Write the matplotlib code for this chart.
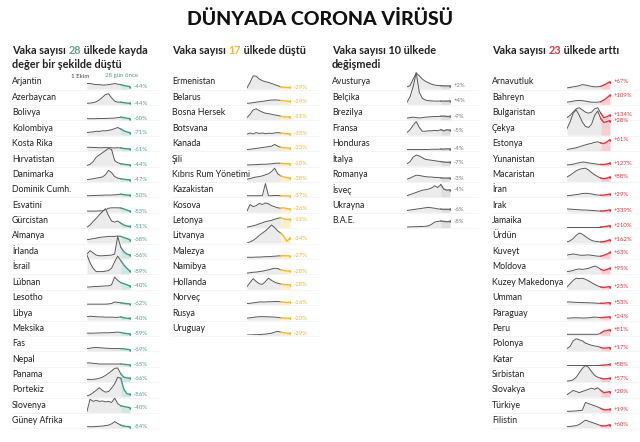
import matplotlib
matplotlib.use("Agg")
import matplotlib.pyplot as plt
from matplotlib.lines import Line2D

W, H = 640, 442

title = "DÜNYADA CORONA VİRÜSÜ"

# ---------------- Column 1: strongly decreased ----------------
col1_header = [[("Vaka sayısı ", "#222222"), ("28", "#5ea58f"), (" ülkede kayda", "#222222")],
               [("değer bir şekilde düştü", "#222222")]]
col1_names = ["Arjantin", "Azerbaycan", "Bolivya", "Kolombiya", "Kosta Rika", "Hırvatistan",
              "Danimarka", "Dominik Cumh.", "Esvatini", "Gürcistan", "Almanya", "İrlanda",
              "İsrail", "Lübnan", "Lesotho", "Libya", "Meksika", "Fas", "Nepal", "Panama",
              "Portekiz", "Slovenya", "Güney Afrika"]
col1_changes = [-44, -44, -60, -71, -61, -44, -47, -50, -83, -51, -68, -66, -89, -40, -62,
                -40, -59, -69, -65, -66, -86, -40, -84]
col1_series = [
    [0.25, 0.25, 0.22, 0.20, 0.20, 0.18, 0.18, 0.20, 0.22, 0.25, 0.22, 0.20, 0.16, 0.13, 0.11],
    [0.05, 0.06, 0.08, 0.12, 0.20, 0.32, 0.45, 0.48, 0.30, 0.15, 0.10, 0.10, 0.08, 0.06, 0.05],
    [0.05, 0.05, 0.05, 0.05, 0.06, 0.06, 0.06, 0.07, 0.07, 0.08, 0.10, 0.12, 0.10, 0.07, 0.05],
    [0.12, 0.14, 0.15, 0.18, 0.17, 0.20, 0.20, 0.22, 0.25, 0.30, 0.35, 0.28, 0.20, 0.15, 0.12],
    [0.15, 0.15, 0.14, 0.14, 0.13, 0.13, 0.14, 0.13, 0.13, 0.12, 0.13, 0.12, 0.10, 0.08, 0.07],
    [0.02, 0.08, 0.20, 0.40, 0.50, 0.60, 0.70, 0.80, 0.75, 0.25, 0.15, 0.10, 0.08, 0.06, 0.05],
    [0.08, 0.10, 0.12, 0.15, 0.17, 0.20, 0.30, 0.50, 0.40, 0.22, 0.15, 0.12, 0.10, 0.08, 0.07],
    [0.05, 0.05, 0.06, 0.06, 0.07, 0.07, 0.08, 0.08, 0.08, 0.09, 0.10, 0.12, 0.10, 0.08, 0.07],
    [0.05, 0.05, 0.05, 0.05, 0.06, 0.06, 0.10, 0.18, 0.20, 0.20, 0.20, 0.19, 0.15, 0.10, 0.05],
    [0.02, 0.12, 0.28, 0.42, 0.58, 0.72, 0.86, 0.55, 0.30, 0.25, 0.30, 0.20, 0.12, 0.07, 0.05],
    [0.15, 0.17, 0.20, 0.22, 0.25, 0.27, 0.28, 0.30, 0.30, 0.30, 0.32, 0.30, 0.25, 0.20, 0.15],
    [0.20, 0.35, 0.25, 0.15, 0.12, 0.12, 0.13, 0.14, 0.15, 0.20, 1.00, 0.50, 0.30, 0.20, 0.15],
    [0.85, 0.50, 0.25, 0.10, 0.10, 0.10, 0.12, 0.15, 0.25, 0.55, 0.80, 0.60, 0.40, 0.25, 0.12],
    [0.10, 0.10, 0.12, 0.12, 0.13, 0.14, 0.15, 0.15, 0.20, 0.55, 0.40, 0.30, 0.25, 0.20, 0.15],
    [0.02, 0.02, 0.02, 0.02, 0.02, 0.02, 0.02, 0.03, 0.05, 0.12, 0.10, 0.08, 0.06, 0.04, 0.03],
    [0.15, 0.17, 0.16, 0.15, 0.14, 0.14, 0.13, 0.13, 0.13, 0.12, 0.12, 0.14, 0.10, 0.08, 0.07],
    [0.10, 0.10, 0.10, 0.11, 0.11, 0.12, 0.12, 0.12, 0.13, 0.14, 0.15, 0.13, 0.10, 0.08, 0.07],
    [0.10, 0.12, 0.14, 0.15, 0.14, 0.13, 0.12, 0.11, 0.10, 0.10, 0.10, 0.10, 0.09, 0.07, 0.05],
    [0.15, 0.15, 0.13, 0.12, 0.10, 0.10, 0.10, 0.10, 0.10, 0.10, 0.10, 0.10, 0.09, 0.07, 0.06],
    [0.10, 0.10, 0.10, 0.12, 0.15, 0.20, 0.28, 0.38, 0.48, 0.60, 0.62, 0.35, 0.20, 0.17, 0.15],
    [0.05, 0.10, 0.20, 0.30, 0.42, 0.30, 0.22, 0.25, 0.40, 0.60, 0.90, 0.85, 0.35, 0.15, 0.12],
    [0.05, 0.60, 0.50, 0.55, 0.50, 0.52, 0.48, 0.50, 0.45, 0.65, 0.40, 0.30, 0.27, 0.24, 0.22],
    [0.05, 0.05, 0.05, 0.06, 0.07, 0.08, 0.10, 0.12, 0.18, 0.28, 0.20, 0.12, 0.08, 0.06, 0.05],
]

# ---------------- Column 2: decreased ----------------
col2_header = [[("Vaka sayısı ", "#222222"), ("17", "#f2b632"), (" ülkede düştü", "#222222")]]
col2_names = ["Ermenistan", "Belarus", "Bosna Hersek", "Botsvana", "Kanada", "Şili",
              "Kıbrıs Rum Yönetimi", "Kazakistan", "Kosova", "Letonya", "Litvanya", "Malezya",
              "Namibya", "Hollanda", "Norveç", "Rusya", "Uruguay"]
col2_changes = [-29, -19, -11, -35, -33, -10, -38, -37, -26, -11, -34, -27, -28, -28, -16, -20, -29]
col2_series = [
    [0.05, 0.30, 0.60, 0.58, 0.45, 0.38, 0.33, 0.30, 0.25, 0.20, 0.15, 0.10, 0.08, 0.07, 0.07],
    [0.05, 0.06, 0.08, 0.10, 0.12, 0.14, 0.16, 0.18, 0.20, 0.20, 0.20, 0.18, 0.16, 0.15, 0.14],
    [0.10, 0.25, 0.45, 0.50, 0.42, 0.35, 0.30, 0.28, 0.25, 0.22, 0.20, 0.16, 0.14, 0.13, 0.13],
    [0.05, 0.10, 0.06, 0.12, 0.08, 0.10, 0.07, 0.09, 0.08, 0.10, 0.12, 0.10, 0.08, 0.07, 0.07],
    [0.05, 0.06, 0.08, 0.10, 0.12, 0.14, 0.16, 0.18, 0.20, 0.28, 0.20, 0.15, 0.13, 0.12, 0.12],
    [0.05, 0.05, 0.06, 0.06, 0.07, 0.08, 0.08, 0.09, 0.10, 0.12, 0.13, 0.12, 0.11, 0.10, 0.10],
    [0.10, 0.13, 0.17, 0.20, 0.22, 0.25, 0.30, 0.35, 0.45, 0.60, 0.35, 0.25, 0.20, 0.17, 0.15],
    [0.05, 0.05, 0.05, 0.05, 0.05, 0.05, 0.60, 0.05, 0.05, 0.06, 0.06, 0.05, 0.05, 0.04, 0.04],
    [0.05, 0.35, 0.25, 0.30, 0.40, 0.35, 0.42, 0.38, 0.30, 0.25, 0.20, 0.18, 0.20, 0.16, 0.15],
    [0.02, 0.05, 0.08, 0.12, 0.17, 0.22, 0.27, 0.30, 0.33, 0.38, 0.42, 0.45, 0.40, 0.37, 0.37],
    [0.00, 0.05, 0.12, 0.22, 0.35, 0.45, 0.55, 0.68, 0.82, 0.70, 0.55, 0.45, 0.30, 0.08, 0.22],
    [0.05, 0.05, 0.05, 0.06, 0.06, 0.07, 0.08, 0.08, 0.09, 0.10, 0.11, 0.12, 0.12, 0.12, 0.11],
    [0.03, 0.05, 0.07, 0.08, 0.10, 0.12, 0.15, 0.18, 0.22, 0.25, 0.24, 0.18, 0.15, 0.13, 0.12],
    [0.12, 0.30, 0.48, 0.35, 0.25, 0.22, 0.35, 0.50, 0.40, 0.32, 0.27, 0.24, 0.22, 0.20, 0.20],
    [0.05, 0.06, 0.08, 0.10, 0.12, 0.12, 0.12, 0.13, 0.13, 0.14, 0.14, 0.13, 0.11, 0.10, 0.10],
    [0.08, 0.10, 0.12, 0.14, 0.15, 0.15, 0.15, 0.14, 0.14, 0.13, 0.12, 0.10, 0.09, 0.08, 0.08],
    [0.02, 0.02, 0.03, 0.03, 0.04, 0.05, 0.06, 0.08, 0.10, 0.15, 0.18, 0.15, 0.12, 0.10, 0.10],
]

# ---------------- Column 3: unchanged ----------------
col3_header = [[("Vaka sayısı 10 ülkede", "#222222")], [("değişmedi", "#222222")]]
col3_names = ["Avusturya", "Belçika", "Brezilya", "Fransa", "Honduras", "İtalya", "Romanya",
              "İsveç", "Ukrayna", "B.A.E."]
col3_changes = [2, 4, -9, -5, -4, -7, -3, -4, -6, -8]
col3_series = [
    [0.10, 0.15, 0.45, 0.72, 0.60, 0.45, 0.35, 0.28, 0.22, 0.18, 0.16, 0.15, 0.14, 0.14, 0.14],
    [0.10, 0.35, 0.80, 1.45, 0.55, 0.28, 0.20, 0.17, 0.16, 0.15, 0.15, 0.15, 0.15, 0.15, 0.16],
    [0.08, 0.10, 0.12, 0.10, 0.08, 0.10, 0.12, 0.13, 0.14, 0.15, 0.15, 0.16, 0.17, 0.15, 0.15],
    [0.12, 0.25, 0.45, 0.62, 0.35, 0.18, 0.18, 0.20, 0.20, 0.22, 0.20, 0.25, 0.20, 0.25, 0.22],
    [0.05, 0.05, 0.05, 0.05, 0.05, 0.05, 0.05, 0.05, 0.06, 0.06, 0.06, 0.07, 0.07, 0.08, 0.08],
    [0.10, 0.20, 0.40, 0.50, 0.45, 0.38, 0.30, 0.28, 0.26, 0.24, 0.22, 0.20, 0.18, 0.17, 0.17],
    [0.10, 0.15, 0.22, 0.28, 0.27, 0.24, 0.22, 0.20, 0.20, 0.18, 0.18, 0.16, 0.15, 0.15, 0.15],
    [0.05, 0.10, 0.15, 0.20, 0.25, 0.30, 0.32, 0.35, 0.40, 0.50, 0.42, 0.55, 0.35, 0.30, 0.32],
    [0.08, 0.10, 0.12, 0.14, 0.16, 0.18, 0.20, 0.22, 0.20, 0.18, 0.15, 0.14, 0.13, 0.13, 0.13],
    [0.03, 0.03, 0.04, 0.04, 0.05, 0.05, 0.06, 0.08, 0.15, 0.25, 0.28, 0.30, 0.28, 0.27, 0.28],
]

# ---------------- Column 4: increased ----------------
col4_header = [[("Vaka sayısı ", "#222222"), ("23", "#d9363e"), (" ülkede arttı", "#222222")]]
col4_names = ["Arnavutluk", "Bahreyn", "Bulgaristan", "Çekya", "Estonya", "Yunanistan",
              "Macaristan", "İran", "Irak", "Jamaika", "Ürdün", "Kuveyt", "Moldova",
              "Kuzey Makedonya", "Umman", "Paraguay", "Peru", "Polonya", "Katar", "Sırbistan",
              "Slovakya", "Türkiye", "Filistin"]
col4_changes = [67, 109, 134, 28, 61, 127, 88, 29, 339, 210, 162, 63, 95, 25, 53, 24, 81, 17,
                88, 57, 20, 19, 60]
col4_series = [
    [0.05, 0.07, 0.10, 0.12, 0.15, 0.20, 0.18, 0.15, 0.12, 0.10, 0.10, 0.12, 0.18, 0.25, 0.33],
    [0.10, 0.12, 0.15, 0.17, 0.18, 0.17, 0.15, 0.12, 0.10, 0.10, 0.10, 0.12, 0.20, 0.30, 0.42],
    [0.10, 0.20, 0.35, 0.50, 0.55, 0.45, 0.35, 0.30, 0.35, 0.50, 0.55, 0.30, 0.10, 0.14, 0.22],
    [0.30, 0.60, 1.00, 1.15, 0.90, 0.60, 0.40, 0.35, 0.50, 0.90, 1.10, 0.75, 0.58, 0.62, 0.66],
    [0.05, 0.08, 0.10, 0.13, 0.17, 0.22, 0.26, 0.30, 0.33, 0.38, 0.40, 0.35, 0.32, 0.40, 0.50],
    [0.05, 0.06, 0.08, 0.12, 0.15, 0.18, 0.17, 0.14, 0.12, 0.10, 0.08, 0.07, 0.07, 0.09, 0.13],
    [0.20, 0.28, 0.38, 0.48, 0.55, 0.58, 0.60, 0.52, 0.40, 0.30, 0.22, 0.15, 0.12, 0.15, 0.20],
    [0.05, 0.06, 0.08, 0.10, 0.12, 0.15, 0.16, 0.15, 0.13, 0.10, 0.08, 0.07, 0.08, 0.10, 0.12],
    [0.15, 0.14, 0.13, 0.12, 0.11, 0.10, 0.10, 0.09, 0.08, 0.07, 0.06, 0.05, 0.06, 0.08, 0.10],
    [0.03, 0.03, 0.03, 0.03, 0.03, 0.03, 0.03, 0.03, 0.03, 0.03, 0.03, 0.03, 0.04, 0.06, 0.09],
    [0.05, 0.10, 0.20, 0.35, 0.45, 0.40, 0.30, 0.20, 0.12, 0.08, 0.06, 0.05, 0.06, 0.10, 0.15],
    [0.15, 0.18, 0.20, 0.18, 0.15, 0.14, 0.15, 0.16, 0.14, 0.12, 0.10, 0.10, 0.14, 0.20, 0.27],
    [0.10, 0.12, 0.15, 0.20, 0.22, 0.20, 0.22, 0.25, 0.30, 0.35, 0.30, 0.20, 0.15, 0.20, 0.25],
    [0.10, 0.25, 0.40, 0.50, 0.48, 0.50, 0.45, 0.38, 0.30, 0.22, 0.15, 0.10, 0.08, 0.10, 0.12],
    [0.12, 0.12, 0.11, 0.10, 0.10, 0.09, 0.09, 0.08, 0.08, 0.07, 0.06, 0.06, 0.06, 0.08, 0.09],
    [0.08, 0.09, 0.10, 0.10, 0.10, 0.09, 0.09, 0.10, 0.12, 0.13, 0.12, 0.11, 0.12, 0.13, 0.14],
    [0.05, 0.05, 0.05, 0.05, 0.05, 0.05, 0.05, 0.05, 0.05, 0.05, 0.05, 0.10, 0.20, 0.22, 0.25],
    [0.10, 0.20, 0.45, 0.55, 0.50, 0.45, 0.35, 0.30, 0.25, 0.22, 0.20, 0.15, 0.12, 0.13, 0.15],
    [0.04, 0.04, 0.04, 0.04, 0.04, 0.04, 0.04, 0.04, 0.04, 0.04, 0.04, 0.04, 0.05, 0.06, 0.08],
    [0.02, 0.04, 0.08, 0.20, 0.40, 0.60, 0.73, 0.65, 0.45, 0.28, 0.20, 0.15, 0.12, 0.13, 0.15],
    [0.10, 0.20, 0.30, 0.25, 0.20, 0.25, 0.30, 0.35, 0.40, 0.35, 0.42, 0.30, 0.20, 0.22, 0.25],
    [0.05, 0.05, 0.06, 0.07, 0.08, 0.10, 0.45, 0.40, 0.35, 0.30, 0.25, 0.18, 0.12, 0.12, 0.14],
    [0.05, 0.06, 0.08, 0.10, 0.15, 0.25, 0.35, 0.30, 0.25, 0.20, 0.15, 0.10, 0.08, 0.10, 0.14],
]

axis_start_label = "1 Ekim"
axis_window_label = "28 gün önce"

# ---------------- layout / style ----------------
FONT = ["Lato", "DejaVu Sans"]
plt.rcParams["font.family"] = FONT

COL_X = [12, 172, 332, 492]
ROW0, ROW_H = 82.0, 15.4
SPARK_DX, SPARK_W, SPARK_H = 75, 43, 33
YMAX = 1.5
LINE_GRAY = "#5a5a5a"
FILL_GRAY = "#ebebeb"

columns = [
    (col1_header, col1_names, col1_series, col1_changes, "#3f9a83", "#cfe9e2", "#4f9f8a"),
    (col2_header, col2_names, col2_series, col2_changes, "#f3b82e", "#fcefc8", "#f0b52c"),
    (col3_header, col3_names, col3_series, col3_changes, "#6d6d6d", "#dedede", "#777777"),
    (col4_header, col4_names, col4_series, col4_changes, "#e3323c", "#fbcdd0", "#e3323c"),
]

fig = plt.figure(figsize=(W / 100, H / 100), dpi=100)
fig.patch.set_facecolor("white")
renderer = fig.canvas.get_renderer()


def fx(x):
    return x / W


def fy(y):
    return 1 - y / H


def text_width(s, **kw):
    t = fig.text(0, 0, s + "|", **kw)
    w1 = t.get_window_extent(renderer).width
    t.remove()
    t = fig.text(0, 0, "|", **kw)
    w2 = t.get_window_extent(renderer).width
    t.remove()
    return w1 - w2


def colored_line(x, y, parts, **kw):
    cur = x
    for s, c in parts:
        fig.text(fx(cur), fy(y), s, color=c, va="center", ha="left", **kw)
        cur += text_width(s, **kw)


# title
fig.text(0.5, fy(19), title, ha="center", va="center", fontsize=14,
         fontweight="black", color="#111111")

head_kw = dict(fontsize=7.8, fontweight="bold")
for ci, (header, names, series, changes, acc, accfill, labcol) in enumerate(columns):
    cx = COL_X[ci]
    for li, parts in enumerate(header):
        colored_line(cx, 50.5 + li * 14.5, parts, **head_kw)

    for i, (name, vals, ch) in enumerate(zip(names, series, changes)):
        ry = ROW0 + ROW_H * i
        fig.text(fx(cx), fy(ry), name, fontsize=6.3, color="#222222", va="center", ha="left")
        fig.add_artist(Line2D([fx(cx), fx(cx + 146)], [fy(ry + 7.6)] * 2,
                              color="#f0f0f0", lw=0.5, zorder=0))
        ax = fig.add_axes([fx(cx + SPARK_DX), fy(ry + 7), SPARK_W / W, SPARK_H / H])
        ax.patch.set_alpha(0)
        n = len(vals)
        xs = list(range(n))
        k = n - 4
        ax.fill_between(xs[:k + 1], vals[:k + 1], 0, color=FILL_GRAY, lw=0)
        ax.fill_between(xs[k:], vals[k:], 0, color=accfill, lw=0)
        ax.plot(xs[:k + 1], vals[:k + 1], color=LINE_GRAY, lw=0.7, solid_joinstyle="round")
        ax.plot(xs[k:], vals[k:], color=acc, lw=1.0, solid_joinstyle="round")
        ax.plot([xs[-1]], [vals[-1]], "o", ms=1.8, color=acc, mew=0)
        ax.annotate(f"{ch:+d}%", (xs[-1], vals[-1]), xytext=(2.4, 0), textcoords="offset points",
                    fontsize=4.3, color=labcol, va="center", ha="left", annotation_clip=False)
        ax.set_xlim(0, n - 1)
        ax.set_ylim(0, YMAX)
        ax.axis("off")

# small axis hints above first sparkline
fig.text(fx(89), fy(76), axis_start_label, fontsize=4.4, color="#444444", ha="right", va="center")
fig.text(fx(122), fy(76), axis_window_label, fontsize=4.4, color="#4f9f8a", ha="center", va="center")

fig.savefig("out.png", dpi=100, facecolor="white")
